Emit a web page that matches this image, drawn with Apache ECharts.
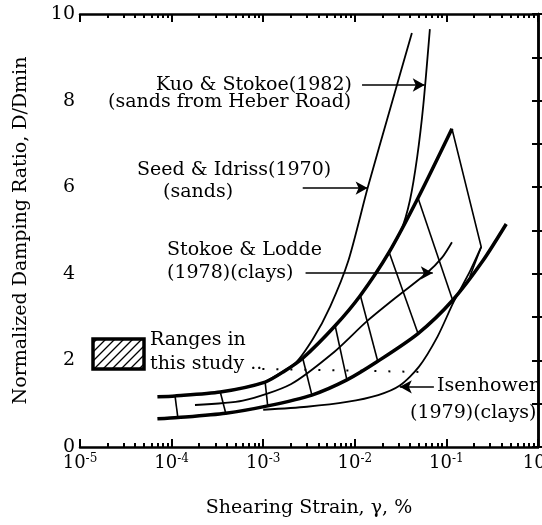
<!DOCTYPE html>
<html>
<head>
<meta charset="utf-8">
<script src="https://cdn.jsdelivr.net/npm/echarts@6/dist/echarts.min.js"></script>
<style>
html,body{margin:0;padding:0;background:#fff}
#chart{width:542px;height:525px}
</style>
</head>
<body>
<div id="chart"></div>
<script>
// 数据: [剪应变 %, D/Dmin]
var upperBound = [[7e-5,1.16],[1.09e-4,1.18],[3.4e-4,1.27],[1.05e-3,1.5],[1.7e-3,1.75],[2.7e-3,2.05],[6.1e-3,2.8],[0.0115,3.5],[0.0237,4.5],[0.049,5.75],[0.115,7.35]];
var lowerBound = [[7e-5,0.65],[1.17e-4,0.68],[3.9e-4,0.78],[1.12e-3,0.95],[3.4e-3,1.2],[8.2e-3,1.55],[0.0178,1.98],[0.049,2.62],[0.117,3.39],[0.25,4.3],[0.45,5.15]];
var kuoStokoe = [[1.05e-3,1.5],[2.7e-3,2.05],[6.1e-3,2.8],[0.0115,3.5],[0.0237,4.5],[0.032,5.0],[0.04,5.7],[0.048,6.7],[0.056,7.9],[0.066,9.65]];
var seedIdriss = [[3.4e-4,1.27],[1.05e-3,1.5],[2.2e-3,1.92],[3.5e-3,2.5],[5.4e-3,3.25],[0.0085,4.3],[0.0138,5.98],[0.025,7.9],[0.042,9.56]];
var stokoeLodde = [[1.8e-4,0.97],[6e-4,1.07],[2e-3,1.45],[6e-3,2.2],[0.0135,2.9],[0.03,3.5],[0.06,4.0],[0.09,4.38],[0.115,4.73]];
var isenhower = [[1e-3,0.86],[3e-3,0.93],[8.2e-3,1.04],[0.018,1.2],[0.031,1.42],[0.05,1.85],[0.08,2.55],[0.12,3.35],[0.18,4.05],[0.24,4.62]];
// 范围内的斜线
var crossLines = [
  [[1.09e-4,1.18],[1.17e-4,0.68]],
  [[3.4e-4,1.27],[3.9e-4,0.78]],
  [[1.05e-3,1.5],[1.12e-3,0.95]],
  [[2.7e-3,2.05],[3.4e-3,1.2]],
  [[6.1e-3,2.8],[8.2e-3,1.55]],
  [[0.0115,3.5],[0.0178,1.98]],
  [[0.0237,4.5],[0.049,2.62]],
  [[0.049,5.75],[0.117,3.39]],
  [[0.115,7.35],[0.24,4.62],[0.18,3.93]]
];
// 箭头
var arrowKuo = [[0.012,8.36],[0.058,8.36]];
var arrowSeed = [[2.7e-3,5.98],[0.0138,5.98]];
var arrowStokoe = [[2.9e-3,4.02],[0.071,4.02]];
var arrowIsen = [[0.073,1.39],[0.031,1.39]];
var dotLeader = [[9.8e-4,1.8],[0.066,1.73]];
var yTicks = [0, 2, 4, 6, 8, 10];

var FONT = 'DejaVu Serif';
var FS = 19;
var chart = echarts.init(document.getElementById('chart'));

// 对数轴次刻度
var minorTicks = [];
for (var e = -5; e < 0; e++) {
  for (var k = 2; k <= 9; k++) minorTicks.push(Math.log10(k) + e);
}

function curve(name, data, w) {
  return {
    name: name, type: 'line', data: data, symbol: 'none',
    smooth: 0.25, silent: true,
    lineStyle: {color: '#000', width: w}
  };
}
function arrow(p) {
  return [{coord: p[0]}, {coord: p[1]}];
}

var tickFmt = function (v) {
  var e = Math.round(Math.log10(v));
  return '{b|10}{s|' + e + '}';
};
var tickRich = {
  b: {fontFamily: FONT, fontSize: 18, color: '#000'},
  s: {fontFamily: FONT, fontSize: 12, color: '#000', padding: [0, 0, 9, 0]}
};
var axisLineStyle = {color: '#000', width: 2.5};
var tickStyle = {color: '#000', width: 2};

// 图例方框
var bx = 93, by = 339, bw = 51, bh = 30;
var graphics = [{
  type: 'rect', shape: {x: bx, y: by, width: bw, height: bh},
  style: {fill: 'none', stroke: '#000', lineWidth: 3.5}
}];
for (var s = bx - bh + 4; s < bx + bw; s += 9) {
  var x1 = s, y1 = by + bh, x2 = s + bh, y2 = by;
  if (x1 < bx) { y1 -= (bx - x1); x1 = bx; }
  if (x2 > bx + bw) { y2 += (x2 - bx - bw); x2 = bx + bw; }
  graphics.push({type: 'line', shape: {x1: x1, y1: y1, x2: x2, y2: y2}, style: {stroke: '#000', lineWidth: 1.3}});
}
function label(txt, x, y) {
  graphics.push({type: 'text', x: x, y: y, style: {text: txt, fontFamily: FONT, fontSize: FS, fill: '#000', verticalAlign: 'middle'}});
}
label('Kuo & Stokoe(1982)', 156, 85);
label('(sands from Heber Road)', 108, 102);
label('Seed & Idriss(1970)', 137, 170);
label('(sands)', 163, 192);
label('Stokoe & Lodde', 167, 250);
label('(1978)(clays)', 167, 273);
label('Ranges in', 150, 340);
label('this study ..', 150, 364);
label('Isenhower', 437, 386);
label('(1979)(clays)', 410, 413);

var option = {
  animation: false,
  grid: {left: 80, right: 4, top: 14, bottom: 78, outerBoundsMode: 'none'},
  xAxis: [
    {
      type: 'log', logBase: 10, min: 1e-5, max: 1, position: 'bottom',
      axisLine: {lineStyle: axisLineStyle},
      axisTick: {inside: true, length: 8, lineStyle: tickStyle},
      splitLine: {show: false},
      axisLabel: {formatter: tickFmt, rich: tickRich, margin: 6, showMinLabel: true, showMaxLabel: true},
      name: 'Shearing Strain, γ, %', nameLocation: 'middle', nameGap: 52,
      nameTextStyle: {fontFamily: FONT, fontSize: FS, color: '#000'}
    },
    {
      type: 'value', min: -5, max: 0, position: 'bottom',
      axisLine: {show: false}, axisLabel: {show: false}, splitLine: {show: false},
      axisTick: {inside: true, length: 4, customValues: minorTicks, lineStyle: tickStyle}
    },
    {
      type: 'log', logBase: 10, min: 1e-5, max: 1, position: 'top',
      axisLine: {lineStyle: axisLineStyle},
      axisTick: {inside: true, length: 8, lineStyle: tickStyle},
      axisLabel: {show: false}, splitLine: {show: false}
    },
    {
      type: 'value', min: -5, max: 0, position: 'top',
      axisLine: {show: false}, axisLabel: {show: false}, splitLine: {show: false},
      axisTick: {inside: true, length: 4, customValues: minorTicks, lineStyle: tickStyle}
    }
  ],
  yAxis: [
    {
      type: 'value', min: 0, max: 10, interval: 2, position: 'left',
      axisLine: {show: true, lineStyle: axisLineStyle},
      axisTick: {show: true, inside: true, length: 6, lineStyle: tickStyle, customValues: yTicks},
      minorTick: {show: true, splitNumber: 2, length: 5, lineStyle: tickStyle},
      splitLine: {show: false},
      axisLabel: {fontFamily: FONT, fontSize: FS, color: '#000', margin: 5},
      name: 'Normalized Damping Ratio, D/Dmin', nameLocation: 'middle', nameGap: 49,
      nameTextStyle: {fontFamily: FONT, fontSize: FS, color: '#000'}
    },
    {
      type: 'value', min: 0, max: 10, interval: 1, position: 'right',
      axisLine: {show: true, lineStyle: axisLineStyle},
      axisTick: {show: true, inside: true, length: 6, lineStyle: tickStyle},
      axisLabel: {show: false}, splitLine: {show: false}
    }
  ],
  series: [
    curve('Kuo & Stokoe', kuoStokoe, 1.8),
    curve('Seed & Idriss', seedIdriss, 1.8),
    curve('Stokoe & Lodde', stokoeLodde, 1.8),
    curve('Isenhower', isenhower, 1.8),
    curve('upper', upperBound, 3.5),
    curve('lower', lowerBound, 3.5),
    {
      type: 'lines', coordinateSystem: 'cartesian2d', polyline: true, silent: true,
      data: crossLines.map(function (c) { return {coords: c}; }),
      lineStyle: {color: '#000', width: 1.6, opacity: 1}
    },
    {
      type: 'line', data: [], silent: true,
      markLine: {
        silent: true, symbol: ['none', 'arrow'], symbolSize: [10, 12],
        label: {show: false},
        lineStyle: {color: '#000', width: 1.6, type: 'solid'},
        data: [arrow(arrowKuo), arrow(arrowSeed), arrow(arrowStokoe), arrow(arrowIsen)]
      }
    },
    {
      type: 'line', data: [], silent: true,
      markLine: {
        silent: true, symbol: ['none', 'none'],
        label: {show: false},
        lineStyle: {color: '#000', width: 2, type: [2, 12]},
        data: [arrow(dotLeader)]
      }
    }
  ],
  graphic: graphics
};
chart.setOption(option);
</script>
</body>
</html>
